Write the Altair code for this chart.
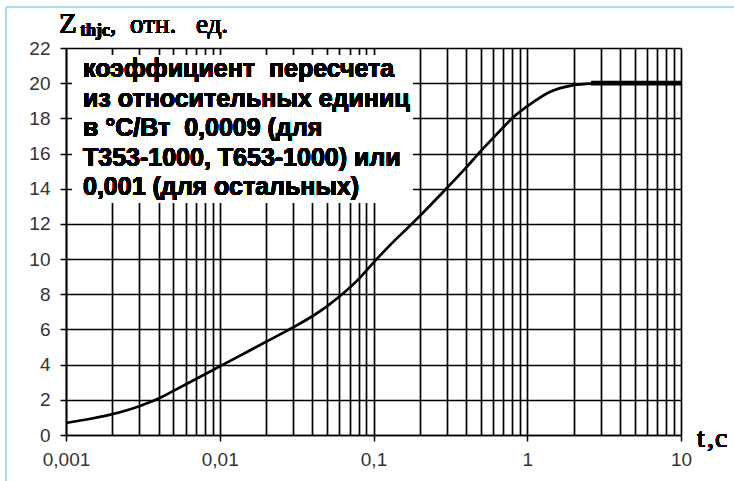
import altair as alt
import pandas as pd

# Transient thermal impedance curve, Z_thjc (relative units) versus time t, s
t_curve = [0.001, 0.0015, 0.002, 0.003, 0.004, 0.005, 0.007, 0.01, 0.013, 0.02,
           0.03, 0.04, 0.05, 0.06, 0.08, 0.1, 0.13, 0.17, 0.2, 0.25, 0.3, 0.4,
           0.5, 0.65, 0.8, 1.1, 1.4, 2.0, 2.6]
z_curve = [0.68, 0.95, 1.19, 1.64, 2.07, 2.51, 3.18, 3.9, 4.43, 5.3,
           6.12, 6.75, 7.33, 7.87, 8.86, 9.8, 10.85, 11.84, 12.45, 13.32, 14.04, 15.2,
           16.15, 17.2, 18.02, 18.94, 19.5, 19.89, 19.98]

# Steady-state plateau
t_flat = [2.6, 10]
z_flat = [20.0, 20.0]

# Axis ticks
decades = [0.001, 0.01, 0.1, 1, 10]
x_grid = [round(m * d, 4) for d in decades[:-1] for m in range(1, 10)] + [10]
y_ticks = [0, 2, 4, 6, 8, 10, 12, 14, 16, 18, 20, 22]

note_lines = [
    "коэффициент\u00a0 пересчета",
    "из относительных единиц",
    "в °C/Вт\u00a0 0,0009 (для",
    "Т353-1000, Т653-1000) или",
    "0,001 (для остальных)",
]

W, H = 615, 387
PAD = {"left": 66, "top": 48, "right": 53, "bottom": 46}

curve_df = pd.DataFrame({"t": t_curve, "z": z_curve})
flat_df = pd.DataFrame({"t": t_flat, "z": z_flat})

decade_test = "indexof(" + str(decades) + ", datum.value) >= 0"

x_scale = alt.Scale(type="log", domain=[0.001, 10], nice=False)
y_scale = alt.Scale(domain=[0, 22], nice=False)

common_axis = dict(
    title=None,
    grid=True,
    gridColor="black",
    gridWidth=1.7,
    gridOpacity=1,
    domainColor="black",
    domainWidth=1.7,
    tickColor="black",
    tickWidth=1.5,
    tickSize=6,
    labelFont="Liberation Sans",
    labelFontSize=19,
    labelColor="#333333",
    labelOverlap=False,
)

x_axis = alt.Axis(
    values=x_grid,
    tickOpacity={"condition": {"test": decade_test, "value": 1}, "value": 0},
    labelExpr=decade_test + " ? replace(format(datum.value, '~g'), '.', ',') : ''",
    labelPadding=9,
    labelFlush=False,
    **common_axis,
)
y_axis = alt.Axis(values=y_ticks, tickCount=12, labelPadding=10, **common_axis)

x_enc = alt.X("t:Q", scale=x_scale, axis=x_axis)
y_enc = alt.Y("z:Q", scale=y_scale, axis=y_axis)

curve = alt.Chart(curve_df).mark_line(
    color="black", strokeWidth=2.7, interpolate="monotone"
).encode(x=x_enc, y=y_enc)

plateau = alt.Chart(flat_df).mark_line(color="black", strokeWidth=4.8).encode(
    x=x_enc, y=y_enc
)

# White panel behind the note text
note_box = alt.Chart(curve_df).mark_rect(color="white").encode(
    x=alt.value(6), x2=alt.value(347), y=alt.value(7), y2=alt.value(155)
)

note = alt.Chart(curve_df).mark_text(
    align="left", baseline="alphabetic", font="Liberation Sans", fontWeight="bold",
    fontSize=25, lineHeight=29.5, color="black",
).encode(x=alt.value(17), y=alt.value(29), text=alt.value(note_lines))


def label(text, x, y, size, weight="normal"):
    return alt.Chart(curve_df).mark_text(
        align="left", baseline="alphabetic", font="Liberation Serif", fontSize=size,
        fontWeight=weight, color="black",
    ).encode(x=alt.value(x), y=alt.value(y), text=alt.value(text))


# Axis titles drawn as text
titles = [
    label("Z", -7, -15, 29),
    label("thjc", 14, -12, 18, "bold"),
    label(",", 44, -15, 25),
    label("отн.", 64, -15, 27),
    label("ед.", 130, -15, 27),
    label("t", 631, 399, 28),
    label(",", 641, 399, 28),
    label("c", 649, 399, 28),
]

# Light frame along the top and left edges
frame_top = alt.Chart(curve_df).mark_rule(color="#a9dcea", strokeWidth=2).encode(
    x=alt.value(-60), x2=alt.value(668), y=alt.value(-41)
)
frame_left = alt.Chart(curve_df).mark_rule(color="#a9dcea", strokeWidth=2).encode(
    x=alt.value(-60), y=alt.value(-41), y2=alt.value(433)
)

chart = alt.layer(
    curve, plateau, note_box, note, *titles, frame_top, frame_left
).properties(
    width=W, height=H, autosize=alt.AutoSizeParams(type="none"), padding=PAD,
    background="white",
).configure_view(stroke=None)

chart.save("out.html", embed_options={"renderer": "svg", "actions": False})
